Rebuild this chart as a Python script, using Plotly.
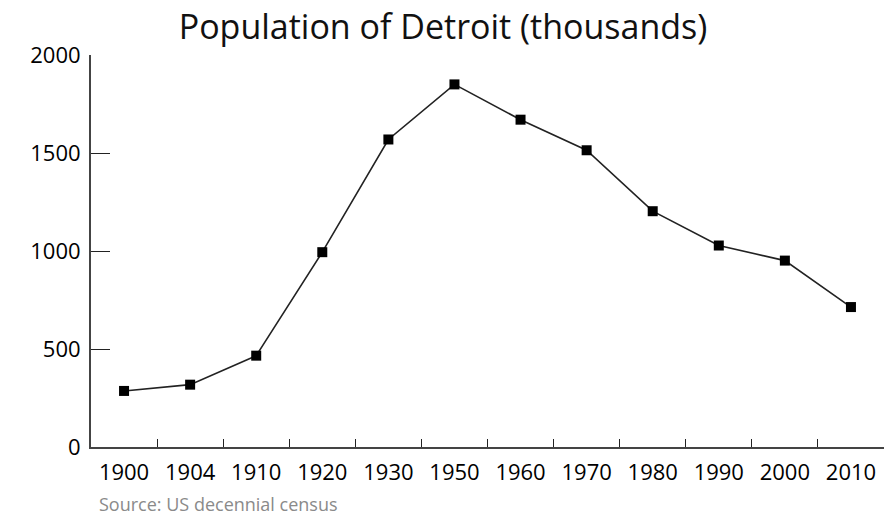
import plotly.graph_objects as go

years = ["1900", "1904", "1910", "1920", "1930", "1950", "1960", "1970", "1980", "1990", "2000", "2010"]
population = [286, 318, 466, 994, 1569, 1850, 1670, 1514, 1203, 1028, 951, 714]
y_ticks = [0, 500, 1000, 1500, 2000]

FONT = "Open Sans"

fig = go.Figure()
fig.add_trace(go.Scatter(
    x=years, y=population, mode="lines+markers",
    line=dict(color="#222222", width=1.6),
    marker=dict(symbol="square", size=10, color="#000000"),
    showlegend=False,
))

fig.update_layout(
    width=886, height=517,
    paper_bgcolor="white", plot_bgcolor="white",
    margin=dict(l=91, r=2, t=55, b=70, autoexpand=False),
    title=dict(text="Population of Detroit (thousands)", x=0.5, xref="container", xanchor="center",
               y=0.948, yref="container", yanchor="middle",
               font=dict(family=FONT, size=34, color="#111111")),
    font=dict(family=FONT, color="#111111"),
)
fig.update_xaxes(
    type="category", range=[-0.5, 11.5], automargin=False,
    showline=True, linecolor="#444444", linewidth=2,
    ticks="inside", ticklen=8, tickwidth=1.2, tickcolor="#222222",
    tickson="boundaries", showgrid=False, zeroline=False,
    tickfont=dict(family=FONT, size=22, color="#000000"),
    ticklabelstandoff=5,
)
fig.update_yaxes(
    range=[0, 2000], tickvals=y_ticks, ticktext=[str(v) for v in y_ticks], automargin=False,
    showline=True, linecolor="#444444", linewidth=2,
    ticks="inside", ticklen=19, tickwidth=1.2, tickcolor="#222222",
    showgrid=False, zeroline=False,
    tickfont=dict(family=FONT, size=22, color="#000000"),
    ticklabelstandoff=4,
)
fig.add_annotation(
    text="Source: US decennial census", xref="paper", yref="paper",
    x=0.007, y=-0.146, xanchor="left", yanchor="middle", showarrow=False,
    font=dict(family=FONT, size=18, color="#8a8a8a"),
)
fig.write_html("out.html", config={"displayModeBar": False},
               post_script="document.body.style.margin='0px';document.body.style.overflow='hidden';")
